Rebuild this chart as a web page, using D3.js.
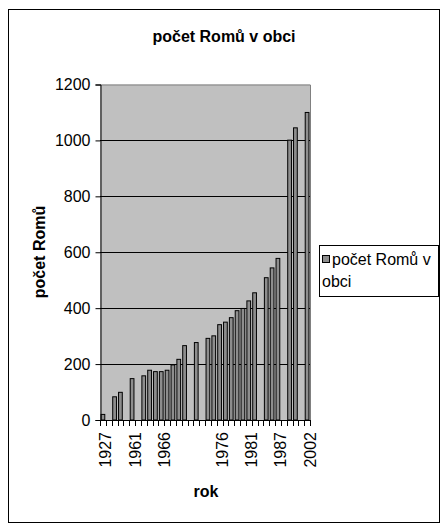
<!DOCTYPE html>
<html>
<head>
<meta charset="utf-8">
<script src="https://cdn.jsdelivr.net/npm/d3@7"></script>
<style>
  html, body { margin: 0; padding: 0; background: #fff; }
  svg { display: block; }
  text { font-family: "Liberation Sans", Arial, sans-serif; fill: #000; }
</style>
</head>
<body>
<svg id="chart" width="442" height="530"></svg>
<script>
// Years (categories) and Roma population per year; empty rows have no value.
const categories = [
  "1927", "1930", "1947", "1950", "1955", "1961", "1962", "1963", "1964", "1965",
  "1966", "1967", "1968", "1969", "1970", "", "1972", "1973", "1974", "1975",
  "1976", "1977", "1978", "1979", "1980", "1981", "1982", "1983", "1984", "1985",
  "1987", "1990", "1995", "1997", "2000", "2002"
];
const values = [
  20, null, 83, 99, null, 148, null, 158, 178, 173,
  173, 178, 197, 217, 266, null, 277, null, 292, 301,
  341, 350, 366, 391, 399, 426, 455, null, 509, 544,
  578, null, 1001, 1045, null, 1100
];
const tickLabels = ["1927", "1961", "1966", "1976", "1981", "1987", "2002"];
const yTicks = [0, 200, 400, 600, 800, 1000, 1200];

const title = "počet Romů v obci";
const yTitle = "počet Romů";
const xTitle = "rok";
const seriesName = ["počet Romů v", "obci"];

const svg = d3.select("#chart");

// outer chart frame
svg.append("rect")
  .attr("x", 8.5).attr("y", 9.5)
  .attr("width", 431).attr("height", 513)
  .attr("fill", "#fff").attr("stroke", "#000").attr("stroke-width", 1);

const plot = { left: 100, right: 310, top: 84.5, bottom: 420 };

const x = d3.scaleBand()
  .domain(d3.range(categories.length))
  .range([plot.left, plot.right])
  .paddingInner(0.36)
  .paddingOuter(0.18);

const y = d3.scaleLinear()
  .domain([0, 1200])
  .range([plot.bottom, plot.top]);

// plot area background
svg.append("rect")
  .attr("x", plot.left).attr("y", plot.top)
  .attr("width", plot.right - plot.left).attr("height", plot.bottom - plot.top)
  .attr("fill", "#c0c0c0");

// gray top / right frame of plot area
svg.append("path")
  .attr("d", `M${plot.left},${plot.top + 0.5}H${plot.right + 0.5}V${plot.bottom}`)
  .attr("fill", "none").attr("stroke", "#808080");

// horizontal gridlines
svg.append("g")
  .selectAll("line")
  .data(yTicks.filter(v => v > 0 && v < 1200))
  .join("line")
  .attr("x1", plot.left).attr("x2", plot.right)
  .attr("y1", d => Math.round(y(d)) + 0.5)
  .attr("y2", d => Math.round(y(d)) + 0.5)
  .attr("stroke", "#000");

// bars
svg.append("g")
  .selectAll("rect")
  .data(values.map((v, i) => ({ i, v })).filter(d => d.v != null))
  .join("rect")
  .attr("x", d => x(d.i))
  .attr("width", x.bandwidth())
  .attr("y", d => y(d.v))
  .attr("height", d => y(0) - y(d.v))
  .attr("fill", "#8e8e8e")
  .attr("stroke", "#000")
  .attr("stroke-width", 1);

// y axis
const yAxis = d3.axisLeft(y)
  .tickValues(yTicks)
  .tickSize(5)
  .tickPadding(5)
  .tickFormat(d3.format("d"));
const gy = svg.append("g")
  .attr("transform", `translate(${plot.left + 0.5},0)`)
  .call(yAxis);
gy.select(".domain").attr("stroke", "#000");
gy.selectAll(".tick line").attr("stroke", "#000");
gy.selectAll(".tick text")
  .attr("font-size", 16)
  .attr("font-family", "'Liberation Sans', Arial, sans-serif");

// x axis: line with tick marks at category boundaries
const boundaries = d3.range(categories.length + 1)
  .map(k => plot.left + k * (plot.right - plot.left) / categories.length);
const gx = svg.append("g");
gx.append("line")
  .attr("x1", plot.left).attr("x2", plot.right + 1)
  .attr("y1", plot.bottom + 0.5).attr("y2", plot.bottom + 0.5)
  .attr("stroke", "#000");
gx.selectAll("line.tk")
  .data(boundaries)
  .join("line")
  .attr("class", "tk")
  .attr("x1", d => Math.round(d) + 0.5).attr("x2", d => Math.round(d) + 0.5)
  .attr("y1", plot.bottom).attr("y2", plot.bottom + 6)
  .attr("stroke", "#000");

// rotated category labels
gx.selectAll("text")
  .data(categories.map((c, i) => ({ c, i })).filter(d => tickLabels.includes(d.c)))
  .join("text")
  .attr("transform", d => `translate(${x(d.i) + x.bandwidth() / 2 + 0.5},${plot.bottom + 12}) rotate(-90)`)
  .attr("text-anchor", "end")
  .attr("dy", "0.5em")
  .attr("font-size", 16)
  .text(d => d.c);

// titles
svg.append("text")
  .attr("x", 224).attr("y", 42)
  .attr("text-anchor", "middle")
  .attr("font-size", 16).attr("font-weight", "bold")
  .text(title);

svg.append("text")
  .attr("transform", `translate(45,252) rotate(-90)`)
  .attr("text-anchor", "middle")
  .attr("font-size", 16).attr("font-weight", "bold")
  .text(yTitle);

svg.append("text")
  .attr("x", 206).attr("y", 497)
  .attr("text-anchor", "middle")
  .attr("font-size", 16).attr("font-weight", "bold")
  .text(xTitle);

// legend
const lg = svg.append("g");
lg.append("rect")
  .attr("x", 319.5).attr("y", 245.5)
  .attr("width", 119).attr("height", 51)
  .attr("fill", "#fff").attr("stroke", "#000");
lg.append("rect")
  .attr("x", 322.5).attr("y", 255.5)
  .attr("width", 7).attr("height", 7)
  .attr("fill", "#8e8e8e").attr("stroke", "#000");
lg.selectAll("text.leg")
  .data(seriesName)
  .join("text")
  .attr("class", "leg")
  .attr("x", (d, i) => i === 0 ? 332 : 322)
  .attr("y", (d, i) => 265 + i * 22)
  .attr("font-size", 16)
  .text(d => d);
</script>
</body>
</html>
